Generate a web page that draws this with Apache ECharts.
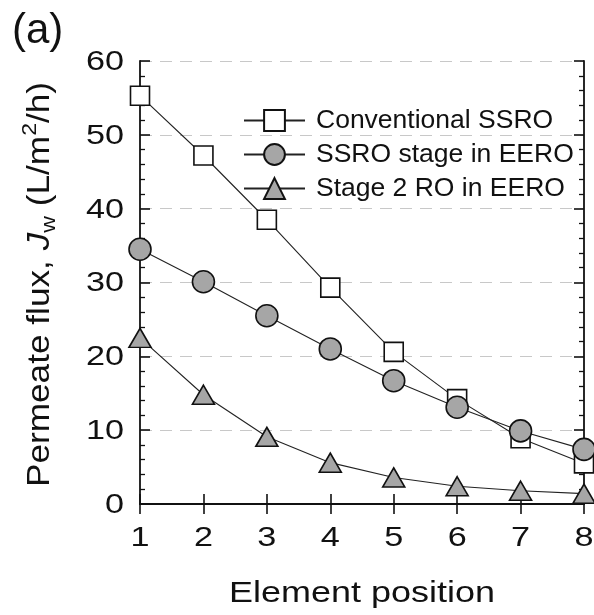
<!DOCTYPE html>
<html>
<head>
<meta charset="utf-8">
<script src="https://cdn.jsdelivr.net/npm/echarts@6/dist/echarts.min.js"></script>
<style>
  html, body { margin: 0; padding: 0; background: #fff; }
  #chart { width: 594px; height: 615px; }
</style>
</head>
<body>
<div id="chart"></div>
<script>
// Element positions along the pressure vessel
const positions = [1, 2, 3, 4, 5, 6, 7, 8];
// Permeate flux (L/m2/h) for each configuration
const conventionalSSRO = [55.3, 47.2, 38.5, 29.3, 20.6, 14.2, 8.9, 5.5];
const ssroStageEERO   = [34.5, 30.1, 25.5, 21.0, 16.7, 13.1, 9.9, 7.4];
const stage2EERO      = [22.5, 14.8, 9.1, 5.6, 3.6, 2.4, 1.8, 1.4];
const seriesNames = ['Conventional SSRO', 'SSRO stage in EERO', 'Stage 2 RO in EERO'];
// Axis tick values / labels
const xTicks = [1, 2, 3, 4, 5, 6, 7, 8];
const yTicks = [0, 10, 20, 30, 40, 50, 60];
const xTitle = 'Element position';
const panelTag = '(a)';

const FONT = 'Liberation Sans, Arial, sans-serif';
const INK = '#111';
const pairs = ys => positions.map((x, i) => [x, ys[i]]);

const chart = echarts.init(document.getElementById('chart'));

const lineSeries = (name, data, symbol, size, fill) => ({
  name, type: 'line', data: pairs(data),
  xAxisIndex: 0, yAxisIndex: 0,
  symbol, symbolSize: size, showAllSymbol: true,
  clip: false,
  lineStyle: { color: '#222', width: 1.1 },
  itemStyle: { color: fill, borderColor: INK, borderWidth: 1.6, opacity: 1 },
  emphasis: { disabled: true },
  z: 3
});

const frameAxis = extra => Object.assign({
  type: 'value',
  axisLine: { show: true, lineStyle: { color: INK, width: 1.8 } },
  axisTick: { show: true, inside: true, length: 10, lineStyle: { color: INK, width: 1.6 } },
  axisLabel: { show: false },
  splitLine: { show: false }
}, extra);

chart.setOption({
  animation: false,
  backgroundColor: '#fff',
  textStyle: { fontFamily: FONT },
  grid: { left: 140, right: 10, top: 61, bottom: 111, containLabel: false },
  legend: {
    left: 238, top: 102, orient: 'vertical',
    itemWidth: 61, itemHeight: 26, itemGap: 7,
    selectedMode: false,
    textStyle: { fontSize: 26.5, color: INK, fontFamily: FONT, padding: [0, 0, 0, 6] },
    data: seriesNames
  },
  xAxis: [
    frameAxis({ min: 1, max: 8, interval: 1, position: 'bottom' }),
    frameAxis({ min: 1, max: 8, interval: 1, position: 'top' })
  ],
  yAxis: [
    frameAxis({
      min: 0, max: 60, interval: 10, position: 'left',
      minorTick: { show: true, splitNumber: 5, length: 5, lineStyle: { color: INK, width: 1.3 } },
      splitLine: { show: true, lineStyle: { color: '#c8c8c8', type: [12, 8], width: 1 } }
    }),
    frameAxis({
      min: 0, max: 60, interval: 10, position: 'right',
      minorTick: { show: true, splitNumber: 5, length: 5, lineStyle: { color: INK, width: 1.3 } }
    })
  ],
  series: [
    lineSeries(seriesNames[0], conventionalSSRO, 'rect', 19, '#ffffff'),
    lineSeries(seriesNames[1], ssroStageEERO, 'circle', 22, '#a6a6a6'),
    lineSeries(seriesNames[2], stage2EERO, 'triangle', [22, 19], '#a6a6a6')
  ]
});

// Tick labels and titles use a slightly widened sans face, so they are laid
// out as text elements positioned through the axes' own scales.
const px = v => chart.convertToPixel({ xAxisIndex: 0 }, v);
const py = v => chart.convertToPixel({ yAxisIndex: 0 }, v);
const x0 = px(xTicks[0]), x1 = px(xTicks[xTicks.length - 1]);
const yBase = py(yTicks[0]), yTop = py(yTicks[yTicks.length - 1]);
const TICK_FONT = 28.5, WIDEN = 1.2;

const labels = [];
xTicks.forEach(v => labels.push({
  type: 'text', x: px(v), y: yBase + 34, scaleX: WIDEN, silent: true,
  style: { text: String(v), fontSize: TICK_FONT, fontFamily: FONT, fill: INK, align: 'center', verticalAlign: 'middle' }
}));
yTicks.forEach(v => labels.push({
  type: 'text', x: x0 - 16, y: py(v) + 1, scaleX: WIDEN, silent: true,
  style: { text: String(v), fontSize: TICK_FONT, fontFamily: FONT, fill: INK, align: 'right', verticalAlign: 'middle' }
}));
labels.push({
  type: 'text', x: (x0 + x1) / 2, y: yBase + 90, scaleX: 1.22, silent: true,
  style: { text: xTitle, fontSize: 29.5, fontFamily: FONT, fill: INK, align: 'center', verticalAlign: 'middle' }
});
labels.push({
  type: 'text', x: 40, y: (yBase + yTop) / 2 + 2, rotation: Math.PI / 2, scaleX: 1.1, silent: true,
  style: {
    text: '{n|Permeate flux, }{i|J}{s|w}{n| (L/m}{p|2}{n|/h)}',
    align: 'center', verticalAlign: 'middle', fill: INK,
    rich: {
      n: { fontSize: 32, fontFamily: FONT, fill: INK, lineHeight: 40, verticalAlign: 'middle' },
      i: { fontSize: 32, fontFamily: FONT, fill: INK, fontStyle: 'italic', lineHeight: 40, verticalAlign: 'middle' },
      s: { fontSize: 21, fontFamily: FONT, fill: INK, lineHeight: 21, verticalAlign: 'bottom' },
      p: { fontSize: 21, fontFamily: FONT, fill: INK, lineHeight: 21, verticalAlign: 'top' }
    }
  }
});
labels.push({
  type: 'text', x: 12, y: 10, silent: true,
  style: { text: panelTag, fontSize: 42, fontFamily: FONT, fill: INK, align: 'left', verticalAlign: 'top' }
});

chart.setOption({ graphic: labels });
</script>
</body>
</html>
